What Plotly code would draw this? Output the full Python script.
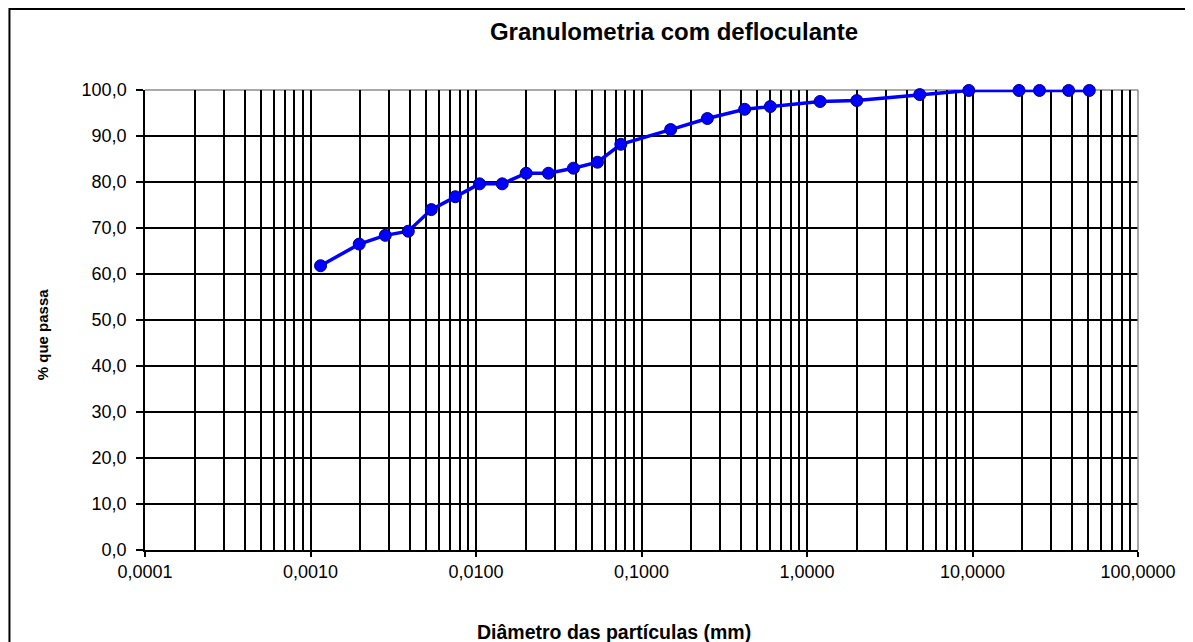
import plotly.graph_objects as go

_FONT = "Arial, Liberation Sans, sans-serif"
_BLUE = "#0000FF"
_NAVY = "#000080"

# diâmetro (mm) e % que passa
diametro_mm = [
    0.00115, 0.00197, 0.00283, 0.0039, 0.00537, 0.0075, 0.0105, 0.0144,
    0.0201, 0.0274, 0.0388, 0.0542, 0.075, 0.15, 0.25, 0.42, 0.6,
    1.2, 2.0, 4.8, 9.5, 19.1, 25.4, 38.1, 50.8,
]
pct_passa = [
    61.8, 66.5, 68.4, 69.3, 74.0, 76.8, 79.6, 79.6,
    81.9, 81.9, 83.0, 84.3, 88.2, 91.4, 93.8, 95.8, 96.4,
    97.5, 97.7, 99.0, 99.9, 99.9, 99.9, 99.9, 99.9,
]

x_ticks = [0.0001, 0.001, 0.01, 0.1, 1, 10, 100]
x_minor = [k * d for d in [0.0001, 0.001, 0.01, 0.1, 1, 10] for k in range(2, 10)]
y_ticks = list(range(0, 101, 10))

# the page body keeps its default 8px margin, so the figure is 8px smaller
W, H = 1185, 634

fig = go.Figure(go.Scatter(
    x=diametro_mm, y=pct_passa,
    mode="lines+markers",
    line=dict(color=_BLUE, width=3.5),
    marker=dict(size=12, color=_BLUE, line=dict(color=_NAVY, width=1)),
    cliponaxis=False,
    showlegend=False,
))

fig.update_layout(
    width=W, height=H,
    paper_bgcolor="white", plot_bgcolor="white",
    font=dict(family=_FONT, color="black", size=18),
    separators=",.",
    margin=dict(l=137, r=55, t=82, b=92),
    title=dict(
        text="<b>Granulometria com defloculante</b>",
        x=666 / W, xref="container", xanchor="center",
        y=1 - 24 / H, yref="container", yanchor="middle",
        font=dict(size=24, family=_FONT, color="black"),
    ),
    annotations=[
        dict(text="<b>Diâmetro das partículas (mm)</b>",
             x=0.4725, y=-0.178, xref="paper", yref="paper",
             xanchor="center", yanchor="middle", showarrow=False,
             font=dict(size=19.5, family=_FONT, color="black")),
        dict(text="<b>% que passa</b>", textangle=-90,
             x=-0.1033, y=0.47, xref="paper", yref="paper",
             xanchor="center", yanchor="middle", showarrow=False,
             font=dict(size=15, family=_FONT, color="black")),
    ],
    shapes=[
        # moldura do gráfico
        dict(type="rect", xref="paper", yref="paper",
             x0=-0.1365, x1=1.3, y0=-0.4, y1=1.176,
             line=dict(color="black", width=2), layer="above"),
        # borda cinza da área de plotagem
        dict(type="line", xref="paper", yref="paper",
             x0=0, x1=1, y0=1, y1=1,
             line=dict(color="#8c8c8c", width=1.5), layer="below"),
        dict(type="line", xref="paper", yref="paper",
             x0=1, x1=1, y0=0, y1=1,
             line=dict(color="#8c8c8c", width=1.5), layer="above"),
    ],
)

fig.update_xaxes(
    type="log", range=[-4, 2],
    tickmode="array", tickvals=x_ticks, tickformat=".4f",
    ticks="outside", ticklen=5, tickcolor="black", tickwidth=1.5,
    showline=True, linecolor="black", linewidth=1.5,
    showgrid=True, gridcolor="black", gridwidth=1.5,
    minor=dict(tickmode="array", tickvals=x_minor, showgrid=True,
               gridcolor="black", gridwidth=1.5, ticks=""),
    zeroline=False,
)
fig.update_yaxes(
    range=[0, 100],
    tickmode="array", tickvals=y_ticks, tickformat=".1f",
    ticks="outside", ticklen=7, tickcolor="black", tickwidth=1.5,
    ticklabelstandoff=6,
    showline=True, linecolor="black", linewidth=1.5,
    showgrid=True, gridcolor="black", gridwidth=1.5,
    zeroline=False,
)

fig.write_html("out.html")
